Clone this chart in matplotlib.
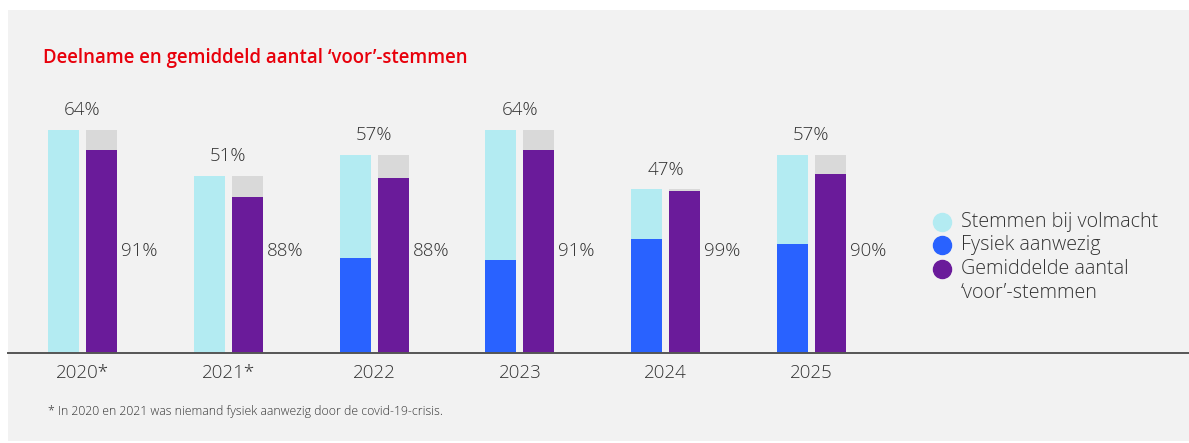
import matplotlib
matplotlib.use("Agg")
import matplotlib.pyplot as plt
import numpy as np
from matplotlib.lines import Line2D
from matplotlib.patches import Rectangle

years = ["2020*", "2021*", "2022", "2023", "2024", "2025"]
deelname = [64, 51, 57, 64, 47, 57]          # participation %
fysiek = [0, 0, 27.3, 26.7, 32.8, 31.3]        # physically present (% of members)
voor_pct = [91, 88, 88, 91, 99, 90]            # average 'voor' votes (% of participants)
deelname_labels = ["64%", "51%", "57%", "64%", "47%", "57%"]
voor_labels = ["91%", "88%", "88%", "91%", "99%", "90%"]

C_VOLM = "#b3ebf2"
C_FYS = "#2962ff"
C_VOOR = "#6a1b9a"
C_REST = "#d9d9d9"
C_BG = "#f2f2f2"
C_TXT = "#333333"
C_RED = "#e8000b"

plt.rcParams['font.family'] = ['Open Sans', 'DejaVu Sans']
FW = "light"

W, H = 1189, 443
fig = plt.figure(figsize=(W / 100, H / 100), dpi=100, facecolor="white")
fig.add_artist(Rectangle((8 / W, 2 / H), 1 - 8 / W, (431) / H, transform=fig.transFigure,
                         facecolor=C_BG, edgecolor="none", zorder=0))

px_per_pct = 3.48
base_px = 353
ymax = 70
ax_h = ymax * px_per_pct
spacing = 145.8
x0_px = 82.5
left_px = 8
ax_w = W - left_px
ax = fig.add_axes([left_px / W, (H - base_px) / H, ax_w / W, ax_h / H])
ax.set_facecolor("none")
xl = -(x0_px - left_px) / spacing
ax.set_xlim(xl, xl + ax_w / spacing)
ax.set_ylim(0, ymax)

x = np.arange(len(years))
bw = 31 / spacing
off = 19 / spacing
deel = np.array(deelname, dtype=float)
fys = np.array(fysiek, dtype=float)
voor = deel * np.array(voor_pct) / 100.0

ax.bar(x - off, fys, bw, color=C_FYS, zorder=2)
ax.bar(x - off, deel - fys, bw, bottom=fys, color=C_VOLM, zorder=2)
ax.bar(x + off, voor, bw, color=C_VOOR, zorder=2)
ax.bar(x + off, deel - voor, bw, bottom=voor, color=C_REST, zorder=2)

for i in range(len(years)):
    ax.text(x[i], deel[i] + 5.7, deelname_labels[i], ha="center", va="center",
            fontsize=13.5, color=C_TXT, fontweight=FW)
    ax.text(x[i] + off + bw / 2 + 4 / spacing, 29.4, voor_labels[i], ha="left", va="center",
            fontsize=13.5, color=C_TXT, fontweight=FW)

for s in ["top", "right", "left"]:
    ax.spines[s].set_visible(False)
ax.spines["bottom"].set_color("#555555")
ax.spines["bottom"].set_linewidth(1.4)
ax.set_yticks([])
ax.set_xticks(x)
ax.set_xticklabels(years, fontsize=13.5, color=C_TXT, fontweight=FW)
ax.tick_params(axis="x", length=0, pad=8)

fig.text(43 / W, 1 - 58 / H, "Deelname en gemiddeld aantal ‘voor’-stemmen", color=C_RED,
         fontsize=13.4, fontweight="semibold", va="center", ha="left")
fig.text(48 / W, 1 - 411 / H, "* In 2020 en 2021 was niemand fysiek aanwezig door de covid-19-crisis.",
         fontsize=8.8, color=C_TXT, va="center", ha="left", fontweight=FW)

legend_markers = [(C_VOLM, 222), (C_FYS, 245), (C_VOOR, 269)]
legend_lines = [("Stemmen bij volmacht", 222), ("Fysiek aanwezig", 245),
                ("Gemiddelde aantal", 269), ("‘voor’-stemmen", 293)]
for col, ypx in legend_markers:
    fig.add_artist(Line2D([942 / W], [1 - ypx / H], marker="o", markersize=13,
                          color=col, linestyle="none", transform=fig.transFigure))
for lab, ypx in legend_lines:
    fig.text(961 / W, 1 - ypx / H, lab, fontsize=14.2, color=C_TXT, va="center",
             ha="left", fontweight=FW)

fig.savefig("out.png", dpi=100, facecolor="white")
